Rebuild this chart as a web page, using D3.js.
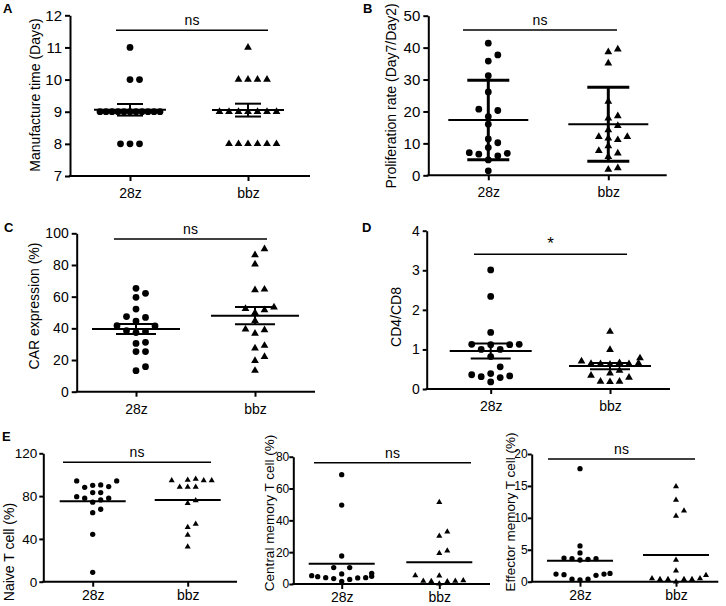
<!DOCTYPE html>
<html>
<head>
<meta charset="utf-8">
<script src="https://cdn.jsdelivr.net/npm/d3@7"></script>
<style>
  body { margin: 0; background: #fff; }
  svg { display: block; }
  text { font-family: "Liberation Sans", Arial, sans-serif; fill: #000; }
</style>
</head>
<body>
<svg id="fig" width="726" height="606"></svg>
<script>
/* ---- data ---- */
var groups = ['28z', 'bbz'];

// A  manufacture time (days), mean +/- SEM
var manuf28z = [11, 10, 10, 9, 9, 9, 9, 9, 9, 9, 9, 9, 9, 9, 8, 8, 8];
var manufBbz = [11, 10, 10, 10, 10, 9, 9, 9, 9, 9, 9, 9, 8, 8, 8, 8, 8, 8];
var manufMean = [9.06, 9.05];
var manufSem = [0.18, 0.20];

// B  proliferation rate (day7/day2), mean +/- SD
var prolif28z = [41.4, 37.7, 35.8, 31.2, 26.1, 20.7, 20.3, 18.4, 16.0, 11.4, 10.2, 8.7, 7.1, 6.9, 6.6, 6.1, 4.8, 1.4];
var prolifBbz = [39.5, 38.6, 35.1, 23.1, 18.6, 17.9, 15.5, 14.2, 12.1, 11.6, 11.1, 12.1, 9.2, 7.7, 6.9, 5.8, 2.3, 1.8];
var prolifMean = [17.3, 16.0];
var prolifSd = [12.45, 11.6];

// C  CAR expression (%), mean +/- SEM
var car28z = [65.3, 62.1, 59.6, 52.2, 47.4, 46.9, 44.6, 41.7, 41.5, 38.5, 37.9, 37.3, 31.2, 30.5, 25.3, 25.3, 15.8, 13.3];
var carBbz = [90.1, 86.3, 80.4, 64.6, 64.2, 53.3, 52.4, 51.6, 49.9, 44.8, 39.4, 38.9, 36.8, 29.1, 27.4, 22.1, 19.6, 13.3];
var carMean = [39.6, 48.0];
var carSem = [3.2, 5.4];

// D  CD4/CD8 ratio, mean +/- SEM
var ratio28z = [3.01, 2.34, 1.43, 1.13, 1.12, 1.12, 1.13, 1.0, 1.0, 0.82, 0.56, 0.36, 0.31, 0.18, 0.29, 0.33, 0.39];
var ratioBbz = [1.45, 0.99, 0.78, 0.70, 0.66, 0.64, 0.63, 0.62, 0.63, 0.65, 0.47, 0.40, 0.34, 0.29, 0.19, 0.18, 0.19];
var ratioMean = [0.96, 0.58];
var ratioSem = [0.19, 0.08];

// E  T cell subsets (%), mean only
var naive28z = [94.2, 94.2, 90.1, 88.2, 90.4, 88.9, 83.3, 83.3, 79.5, 76.4, 78.0, 78.0, 74.3, 67.7, 64.5, 44.3, 8.8];
var naiveBbz = [94.5, 94.5, 96.0, 94.5, 95.0, 88.6, 88.6, 88.6, 75.8, 73.3, 50.9, 54.0, 43.7, 32.7];
var naiveMean = [75.1, 76.4];

var cm28z = [68.7, 49.6, 17.6, 10.3, 10.3, 5.2, 3.8, 6.3, 6.7, 4.6, 4.0, 4.0, 1.7, 3.4, 4.8, 2.9];
var cmBbz = [51.3, 32.9, 30.2, 20.9, 19.3, 5.4, 5.2, 1.9, 1.9, 1.6, 1.7, 2.2, 0.2];
var cmMean = [12.7, 13.6];

var em28z = [17.7, 5.6, 4.5, 3.7, 3.6, 3.5, 3.4, 3.6, 1.3, 1.2, 1.0, 1.1, 1.2, 0.4, 0.3, 0.4];
var emBbz = [14.9, 12.8, 11.1, 10.3, 3.4, 1.7, 1.0, 0.5, 0.4, 0.4, 0.4, 0.4, 0.5, 0.0];
var emMean = [3.3, 4.2];

var svg = d3.select('#fig');

/* column-scatter layout: slots 0, +1, -1, +2, ... ; rows of equal values squeezed to maxHalf */
function swarm(values, y, step, gap, maxHalf) {
  var idx = d3.range(values.length).sort(function (a, b) { return values[a] - values[b]; });
  var slot = [], placed = [];
  idx.forEach(function (i) {
    var py = y(values[i]);
    for (var k = 0; ; k++) {
      var s = k === 0 ? 0 : (k % 2 ? (k + 1) / 2 : -k / 2);
      var hit = placed.some(function (p) { return p.s === s && Math.abs(p.y - py) < gap; });
      if (!hit) { slot[i] = s; placed.push({ s: s, y: py }); break; }
    }
  });
  var off = slot.map(function (s) { return s * step; });
  d3.group(d3.range(values.length), function (i) { return values[i]; }).forEach(function (ids) {
    var m = d3.max(ids, function (i) { return Math.abs(slot[i]); }) * step;
    if (m > maxHalf) ids.forEach(function (i) { off[i] = slot[i] * step * maxHalf / m; });
  });
  return off;
}

function panel(p) {
  var g = svg.append('g');
  var y = d3.scaleLinear().domain(p.domain).range([p.bottom, p.top]);
  var x = d3.scalePoint().domain(groups).range(p.centers);

  /* panel letter */
  if (p.letter) {
    g.append('text').attr('x', p.letter[1]).attr('y', p.letter[2])
      .attr('font-size', 13).attr('font-weight', 'bold').text(p.letter[0]);
  }

  /* y axis */
  var ya = g.append('g').attr('transform', 'translate(' + p.x0 + ',0)')
    .call(d3.axisLeft(y).tickValues(p.ticks).tickFormat(d3.format('~g'))
      .tickSize(p.tick[0]).tickSizeOuter(0).tickPadding(p.tick[1]));
  ya.select('.domain').attr('stroke-width', 2);
  ya.selectAll('.tick line').attr('stroke-width', 2);
  ya.selectAll('.tick text').attr('font-size', p.tick[2]).attr('font-family', null);

  /* x axis */
  var xa = g.append('g').attr('transform', 'translate(0,' + p.bottom + ')')
    .call(d3.axisBottom(x).tickSize(5).tickSizeOuter(0).tickPadding(p.xPad));
  xa.select('.domain').remove();
  xa.selectAll('.tick line').attr('stroke-width', 2);
  xa.selectAll('.tick text').attr('font-size', 14).attr('font-family', null);
  g.append('line').attr('x1', p.x0 - 1).attr('x2', p.x1)
    .attr('y1', p.bottom).attr('y2', p.bottom)
    .attr('stroke', '#000').attr('stroke-width', 2);

  /* y title (title[1] is the centre of the ink, baseline sits a bit right of it) */
  g.append('text')
    .attr('transform', 'translate(' + (p.title[1] + 3.5) + ',' + p.title[2] + ') rotate(-90)')
    .attr('text-anchor', 'middle').attr('font-size', p.title[3] || 14).text(p.title[0]);

  /* significance bar */
  g.append('line').attr('x1', p.sig[0]).attr('x2', p.sig[1])
    .attr('y1', p.sig[2]).attr('y2', p.sig[2])
    .attr('stroke', '#000').attr('stroke-width', 1.5);
  g.append('text').attr('x', (p.sig[0] + p.sig[1]) / 2).attr('y', p.sig[2] - 5)
    .attr('text-anchor', 'middle').attr('font-size', p.sigText === '*' ? 17 : 14).text(p.sigText);

  /* error bars */
  if (p.err) {
    groups.forEach(function (grp, i) {
      var cx = x(grp), lo = y(p.mean[i] - p.err[i]), hi = y(p.mean[i] + p.err[i]);
      g.append('line').attr('x1', cx).attr('x2', cx).attr('y1', lo).attr('y2', hi)
        .attr('stroke', '#000').attr('stroke-width', p.errW);
      [lo, hi].forEach(function (yy) {
        g.append('line').attr('x1', cx - p.capHalf).attr('x2', cx + p.capHalf)
          .attr('y1', yy).attr('y2', yy).attr('stroke', '#000').attr('stroke-width', p.errW);
      });
    });
  }

  /* points */
  var shapes = [d3.symbolCircle, d3.symbolTriangle];
  p.series.forEach(function (vals, i) {
    var off = swarm(vals, y, p.step, p.gap, 30);
    var sym = d3.symbol().type(shapes[i]).size(p.sizes[i]);
    g.append('g').selectAll('path').data(vals).enter().append('path')
      .attr('d', sym)
      .attr('transform', function (v, j) {
        return 'translate(' + (x(groups[i]) + off[j]) + ',' + y(v) + ')';
      })
      .attr('fill', '#000');
  });

  /* mean lines */
  groups.forEach(function (grp, i) {
    var cx = x(grp);
    g.append('line').attr('x1', cx - p.meanHalf).attr('x2', cx + p.meanHalf)
      .attr('y1', y(p.mean[i])).attr('y2', y(p.mean[i]))
      .attr('stroke', '#000').attr('stroke-width', 2);
  });
}

var bigSizes = [36, 26], smallSizes = [22, 16];

panel({
  letter: ['A', 3, 13], x0: 70, x1: 310, top: 15.3, bottom: 176, centers: [130, 248],
  domain: [7, 12], ticks: [7, 8, 9, 10, 11, 12], tick: [5, 3, 15], xPad: 7,
  title: ['Manufacture time (Days)', 36, 95],
  series: [manuf28z, manufBbz], mean: manufMean, err: manufSem,
  errW: 2, capHalf: 13, meanHalf: 36, sig: [116, 268, 30.3], sigText: 'ns',
  step: 9.5, gap: 7.5, sizes: bigSizes
});

panel({
  letter: ['B', 363, 13], x0: 428.3, x1: 666.7, top: 15.7, bottom: 175.3, centers: [488.3, 608.3],
  domain: [0, 50], ticks: [0, 10, 20, 30, 40, 50], tick: [5, 3, 15], xPad: 7,
  title: ['Proliferation rate (Day7/Day2)', 392, 96],
  series: [prolif28z, prolifBbz], mean: prolifMean, err: prolifSd,
  errW: 3, capHalf: 21, meanHalf: 40, sig: [463, 617, 30], sigText: 'ns',
  step: 9.5, gap: 7.5, sizes: bigSizes
});

panel({
  letter: ['C', 4, 232], x0: 76.7, x1: 315, top: 233.3, bottom: 391.7, centers: [136, 255],
  domain: [0, 100], ticks: [0, 20, 40, 60, 80, 100], tick: [5, 3, 14], xPad: 7,
  title: ['CAR expression (%)', 35, 306],
  series: [car28z, carBbz], mean: carMean, err: carSem,
  errW: 2, capHalf: 20, meanHalf: 44, sig: [114, 267, 239], sigText: 'ns',
  step: 9.5, gap: 7.5, sizes: bigSizes
});

panel({
  letter: ['D', 362, 232], x0: 426.7, x1: 670, top: 230.7, bottom: 389, centers: [490.7, 610],
  domain: [0, 4], ticks: [0, 1, 2, 3, 4], tick: [4, 3, 14], xPad: 7,
  title: ['CD4/CD8', 397, 317],
  series: [ratio28z, ratioBbz], mean: ratioMean, err: ratioSem,
  errW: 2, capHalf: 20, meanHalf: 41, sig: [474, 627, 254.3], sigText: '*',
  step: 9.5, gap: 7.5, sizes: bigSizes
});

panel({
  letter: ['E', 2, 441], x0: 43.3, x1: 237, top: 453.3, bottom: 581.7, centers: [92.7, 187.7],
  domain: [0, 120], ticks: [0, 40, 80, 120], tick: [4, 2, 13.5], xPad: 3,
  title: ['Naive T cell (%)', 10, 552],
  series: [naive28z, naiveBbz], mean: naiveMean, err: null,
  meanHalf: 33, sig: [63, 211, 462.3], sigText: 'ns',
  step: 8, gap: 6.5, sizes: smallSizes
});

panel({
  letter: null, x0: 293.3, x1: 490, top: 456.7, bottom: 584, centers: [341.7, 439.3],
  domain: [0, 80], ticks: [0, 20, 40, 60, 80], tick: [4, 0, 12], xPad: 3,
  title: ['Central memory T cell (%)', 270, 513, 13.5],
  series: [cm28z, cmBbz], mean: cmMean, err: null,
  meanHalf: 33, sig: [314, 471, 462.7], sigText: 'ns',
  step: 8, gap: 6.5, sizes: smallSizes
});

panel({
  letter: null, x0: 531.7, x1: 718.3, top: 454, bottom: 581.7, centers: [580, 676],
  domain: [0, 20], ticks: [0, 5, 10, 15, 20], tick: [4, 0, 12], xPad: 3,
  title: ['Effector memory T cell (%)', 511.5, 512, 13.5],
  series: [em28z, emBbz], mean: emMean, err: null,
  meanHalf: 33, sig: [548, 695, 459], sigText: 'ns',
  step: 8, gap: 6.5, sizes: smallSizes
});
</script>
</body>
</html>
